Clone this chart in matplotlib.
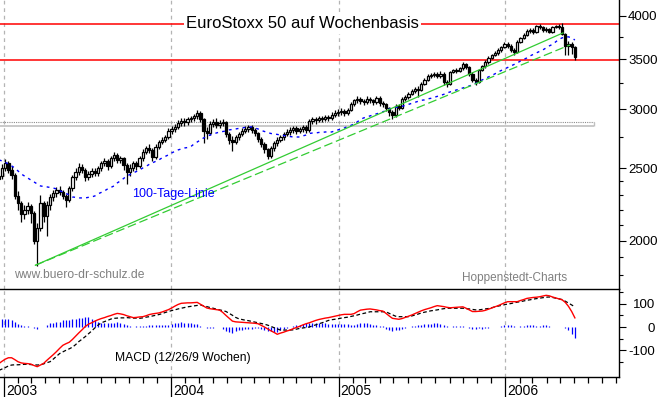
import numpy as np
import pandas as pd
import matplotlib
matplotlib.use("Agg")
import matplotlib.pyplot as plt
import matplotlib.dates as mdates
from matplotlib.ticker import FixedLocator, NullFormatter, FixedFormatter

plt.rcParams['font.family'] = ['Liberation Sans', 'DejaVu Sans']

# ---------------- data ----------------
first_week = "2002-12-20"
first_open = 2420

close = [2438, 2499, 2538, 2484, 2446, 2292, 2243, 2168, 2195, 2222,
         2175, 2000, 2076, 2243, 2155, 2229, 2285, 2313, 2335, 2321,
         2292, 2264, 2349, 2431, 2469, 2507, 2484, 2431, 2453, 2476,
         2461, 2499, 2538, 2554, 2515, 2578, 2602, 2562, 2578, 2523,
         2469, 2499, 2538, 2515, 2578, 2626, 2659, 2642, 2586, 2667,
         2709, 2725, 2752, 2803, 2820, 2837, 2872, 2890, 2881, 2908,
         2917, 2935, 2963, 2908, 2803, 2786, 2864, 2881, 2855, 2872,
         2881, 2777, 2725, 2709, 2752, 2777, 2803, 2820, 2837, 2811,
         2786, 2735, 2692, 2651, 2594, 2659, 2700, 2725, 2752, 2777,
         2794, 2811, 2829, 2803, 2820, 2837, 2811, 2890, 2908, 2899,
         2917, 2908, 2926, 2917, 2944, 2963, 2972, 2981, 2963, 2990,
         3046, 3084, 3094, 3075, 3065, 3094, 3084, 3065, 3103, 3056,
         3046, 3009, 2972, 2944, 3028, 3009, 3094, 3113, 3142, 3171,
         3191, 3181, 3241, 3281, 3322, 3332, 3343, 3322, 3343, 3261,
         3241, 3364, 3384, 3374, 3405, 3448, 3416, 3343, 3281, 3261,
         3384, 3427, 3469, 3512, 3545, 3567, 3600, 3633, 3667, 3645,
         3600, 3578, 3690, 3736, 3771, 3818, 3830, 3806, 3878, 3866,
         3830, 3842, 3806, 3866, 3878, 3866, 3783, 3645, 3667, 3633,
         3523]

high = [2470, 2530, 2575, 2560, 2520, 2460, 2330, 2260, 2230, 2250,
        2240, 2190, 2110, 2300, 2260, 2260, 2310, 2340, 2360, 2370,
        2340, 2310, 2370, 2450, 2500, 2540, 2530, 2500, 2480, 2500,
        2500, 2520, 2560, 2580, 2570, 2600, 2630, 2620, 2600, 2590,
        2540, 2530, 2560, 2560, 2600, 2650, 2680, 2690, 2660, 2690,
        2730, 2750, 2770, 2830, 2850, 2870, 2900, 2920, 2920, 2930,
        2940, 2960, 2990, 2980, 2920, 2840, 2890, 2910, 2920, 2900,
        2910, 2890, 2800, 2760, 2770, 2800, 2830, 2850, 2860, 2860,
        2830, 2800, 2750, 2710, 2660, 2680, 2720, 2750, 2770, 2800,
        2820, 2840, 2850, 2850, 2840, 2860, 2860, 2910, 2930, 2930,
        2940, 2940, 2950, 2950, 2970, 2990, 3000, 3010, 3000, 3010,
        3070, 3100, 3120, 3110, 3100, 3120, 3110, 3100, 3120, 3120,
        3080, 3060, 3020, 2990, 3050, 3050, 3110, 3130, 3160, 3190,
        3210, 3220, 3260, 3300, 3340, 3350, 3360, 3360, 3370, 3360,
        3280, 3380, 3400, 3410, 3420, 3470, 3460, 3430, 3360, 3300,
        3400, 3440, 3490, 3530, 3560, 3590, 3620, 3650, 3690, 3690,
        3670, 3620, 3710, 3750, 3790, 3840, 3860, 3850, 3890, 3900,
        3880, 3870, 3860, 3880, 3895, 3900, 3910, 3790, 3700, 3690,
        3650]

low = [2390, 2420, 2480, 2460, 2420, 2270, 2200, 2120, 2140, 2170,
       2110, 1980, 1850, 2060, 2120, 2030, 2200, 2260, 2290, 2300,
       2270, 2220, 2250, 2330, 2410, 2450, 2460, 2400, 2410, 2430,
       2440, 2440, 2480, 2520, 2490, 2500, 2560, 2540, 2540, 2490,
       2380, 2440, 2480, 2490, 2500, 2560, 2610, 2620, 2560, 2570,
       2650, 2690, 2710, 2740, 2780, 2800, 2820, 2850, 2850, 2860,
       2880, 2890, 2910, 2880, 2700, 2740, 2770, 2840, 2830, 2830,
       2850, 2750, 2690, 2640, 2690, 2730, 2760, 2790, 2800, 2790,
       2760, 2710, 2670, 2620, 2570, 2580, 2640, 2680, 2710, 2730,
       2760, 2770, 2790, 2780, 2790, 2800, 2790, 2800, 2870, 2870,
       2880, 2880, 2890, 2890, 2900, 2930, 2940, 2950, 2940, 2950,
       2980, 3030, 3060, 3050, 3040, 3050, 3060, 3040, 3050, 3030,
       3020, 2980, 2940, 2910, 2930, 2990, 3000, 3080, 3100, 3130,
       3150, 3110, 3170, 3230, 3270, 3300, 3310, 3300, 3300, 3230,
       3210, 3230, 3350, 3350, 3360, 3390, 3400, 3320, 3260, 3230,
       3250, 3370, 3410, 3450, 3500, 3530, 3550, 3580, 3620, 3620,
       3580, 3550, 3570, 3680, 3720, 3760, 3800, 3780, 3790, 3840,
       3810, 3810, 3790, 3790, 3850, 3840, 3770, 3545, 3545, 3560,
       3490]

ma100 = [2565, 2557, 2546, 2534, 2518, 2502, 2479, 2456, 2441, 2426,
         2411, 2396, 2382, 2367, 2363, 2360, 2356, 2352, 2345, 2331,
         2324, 2313, 2302, 2288, 2285, 2281, 2281, 2281, 2285, 2288,
         2295, 2310, 2320, 2331, 2345, 2356, 2367, 2389, 2404, 2422,
         2441, 2452, 2464, 2475, 2487, 2502, 2514, 2530, 2542, 2553,
         2565, 2581, 2593, 2605, 2621, 2633, 2645, 2653, 2661, 2665,
         2673, 2694, 2711, 2728, 2745, 2757, 2770, 2779, 2787, 2796,
         2800, 2805, 2814, 2818, 2822, 2827, 2831, 2836, 2840, 2840,
         2831, 2822, 2809, 2800, 2792, 2783, 2779, 2775, 2770, 2766,
         2762, 2757, 2753, 2753, 2753, 2762, 2770, 2783, 2787, 2787,
         2792, 2792, 2796, 2796, 2796, 2805, 2814, 2822, 2831, 2844,
         2853, 2866, 2884, 2906, 2920, 2929, 2938, 2947, 2956, 2965,
         2975, 2988, 3002, 3012, 3016, 3021, 3026, 3035, 3045, 3054,
         3064, 3073, 3083, 3087, 3097, 3102, 3111, 3121, 3130, 3140,
         3154, 3164, 3173, 3183, 3193, 3203, 3213, 3223, 3233, 3248,
         3263, 3283, 3298, 3314, 3329, 3345, 3365, 3381, 3397, 3412,
         3428, 3444, 3460, 3481, 3498, 3514, 3536, 3553, 3569, 3586,
         3602, 3624, 3647, 3664, 3692, 3721, 3738, 3750, 3750, 3738,
         3714]

macd = [-156, -146, -137, -131, -131, -139, -148, -153, -155, -156,
        -158, -164, -169, -162, -155, -142, -130, -118, -105, -91,
        -78, -71, -65, -53, -39, -25, -12, 2, 12, 18,
        25, 31, 36, 40, 45, 49, 54, 58, 56, 53,
        48, 44, 40, 41, 43, 44, 48, 53, 56, 58,
        60, 64, 69, 74, 81, 89, 96, 101, 102, 103,
        103, 104, 105, 97, 89, 81, 78, 76, 74, 72,
        62, 49, 37, 25, 22, 21, 20, 19, 18, 17,
        16, 14, 7, 0, -8, -16, -23, -31, -26, -22,
        -17, -13, -7, -2, 3, 9, 14, 18, 23, 28,
        32, 35, 38, 40, 43, 46, 49, 52, 54, 54,
        54, 57, 65, 72, 74, 76, 77, 75, 73, 70,
        68, 58, 47, 37, 35, 33, 36, 41, 46, 51,
        57, 63, 69, 74, 78, 82, 87, 91, 89, 87,
        84, 82, 83, 84, 85, 86, 80, 73, 66, 66,
        67, 68, 71, 76, 81, 86, 91, 97, 103, 108,
        108, 108, 108, 113, 117, 122, 124, 126, 127, 129,
        132, 135, 133, 128, 124, 120, 116, 105, 88, 66,
        39]

signal = [-185, -179, -173, -166, -162, -161, -161, -160, -159, -159,
          -160, -161, -162, -161, -157, -152, -148, -137, -125, -113,
          -106, -99, -93, -86, -75, -62, -52, -41, -29, -17,
          -4, 8, 18, 23, 28, 34, 37, 38, 39, 39,
          40, 39, 38, 38, 37, 39, 42, 44, 47, 50,
          53, 57, 62, 66, 70, 73, 77, 80, 83, 86,
          88, 90, 92, 94, 90, 87, 83, 80, 76, 73,
          70, 66, 58, 50, 41, 35, 32, 29, 27, 24,
          21, 18, 15, 12, 8, 3, -3, -8, -13, -13,
          -13, -13, -12, -9, -6, -4, -2, 0, 5, 9,
          14, 18, 23, 28, 31, 33, 35, 38, 40, 42,
          45, 48, 51, 55, 58, 61, 65, 65, 65, 65,
          65, 65, 58, 52, 46, 44, 44, 44, 44, 47,
          51, 55, 60, 63, 66, 69, 71, 73, 76, 78,
          80, 80, 80, 80, 80, 80, 78, 77, 75, 73,
          73, 75, 77, 79, 82, 86, 89, 92, 95, 98,
          100, 103, 106, 108, 111, 114, 116, 119, 121, 123,
          125, 127, 128, 126, 123, 120, 117, 110, 102, 94,
          86]

level_lines = [3900, 3490]
zone_levels = [2850, 2885]
zone_end = "2006-07-14"
trend_solid_dates = ["2003-03-10", "2006-05-07"]
trend_solid_values = [1853, 3796]
trend_dashed_dates = ["2003-03-10", "2006-05-22"]
trend_dashed_values = [1853, 3658]
year_ticks = ["2003-01-01", "2004-01-01", "2005-01-01", "2006-01-01"]
year_labels = ["2003", "2004", "2005", "2006"]
price_major = [2000, 2500, 3000, 3500, 4000]
price_minor = [1800, 1900, 2100, 2200, 2300, 2400, 2750, 3250, 3750]
macd_major = [-100, 0, 100]
macd_minor = [-150, -50, 50, 150]

# ---------------- figure ----------------
W, H = 660, 397
fig = plt.figure(figsize=(W / 100, H / 100), dpi=100)
right_px = 619
ax = fig.add_axes([0, (H - 289) / H, right_px / W, 289 / H])
ax2 = fig.add_axes([0, (H - 377) / H, right_px / W, 88 / H], sharex=ax)

dates = pd.date_range(first_week, periods=len(close), freq="7D")
xd = mdates.date2num(dates.to_pydatetime())
c = np.array(close, float)
o = np.concatenate([[first_open], c[:-1]])
hi = np.array(high, float)
lo = np.array(low, float)

x0 = mdates.date2num(pd.Timestamp("2002-12-22 14:00"))
x1 = mdates.date2num(pd.Timestamp("2006-09-06 12:00"))
ax.set_xlim(x0, x1)

# main panel
ax.set_yscale("log")
ax.set_ylim(1722, 4202)

grid_kw = dict(color="#b4b4b4", lw=0.9, ls=(0, (3, 3)), zorder=0)
for d in year_ticks:
    xv = mdates.date2num(pd.Timestamp(d))
    ax.axvline(xv, **grid_kw)
    ax2.axvline(xv, **grid_kw)

# zone box
ze = mdates.date2num(pd.Timestamp(zone_end))
ax.hlines(zone_levels[1], x0, ze, color="#8c8c8c", lw=0.8, ls=(0, (1, 1)), zorder=1)
ax.hlines(zone_levels[0], x0, ze, color="#c0c0c0", lw=1.2, zorder=1)
ax.vlines(ze, zone_levels[0], zone_levels[1], color="#c0c0c0", lw=1.0, zorder=1)

for lv in level_lines:
    ax.axhline(lv, color="#ff0000", lw=1.1, zorder=2)

# candles
up = c >= o
ax.vlines(xd, lo, hi, color="black", lw=0.9, zorder=3)
body_lo = np.minimum(o, c)
body_h = np.maximum(np.abs(c - o), 3.0)
ax.bar(xd[up], body_h[up], bottom=body_lo[up], width=5.0, color="white",
       edgecolor="black", linewidth=0.9, zorder=4)
ax.bar(xd[~up], body_h[~up], bottom=body_lo[~up], width=5.0, color="black",
       edgecolor="black", linewidth=0.9, zorder=4)

# 100-Tage-Linie
ax.plot(xd, ma100, color="#0000ff", lw=1.0, ls=(0, (2, 3)), zorder=5)

# trend lines
ax.plot(mdates.date2num(pd.to_datetime(trend_solid_dates).to_pydatetime()),
        trend_solid_values, color="#33cc33", lw=0.9, zorder=5)
ax.plot(mdates.date2num(pd.to_datetime(trend_dashed_dates).to_pydatetime()),
        trend_dashed_values, color="#33cc33", lw=0.9, ls=(0, (7, 3)), zorder=5)

ax.text(0.488, 1 - 24 / 289, "EuroStoxx 50 auf Wochenbasis", transform=ax.transAxes,
        ha="center", va="center", fontsize=12, color="black", zorder=6,
        bbox=dict(facecolor="white", edgecolor="none", pad=1.5))
ax.text(132 / right_px, 1 - 194 / 289, "100-Tage-Linie", transform=ax.transAxes,
        ha="left", va="center", fontsize=9, color="#0000ff", zorder=6)
ax.text(14 / right_px, 1 - 275 / 289, "www.buero-dr-schulz.de", transform=ax.transAxes,
        ha="left", va="center", fontsize=8.7, color="#808080", zorder=6)
ax.text(462 / right_px, 1 - 278 / 289, "Hoppenstedt-Charts", transform=ax.transAxes,
        ha="left", va="center", fontsize=8.5, color="#808080", zorder=6)

ax.yaxis.tick_right()
ax.yaxis.set_major_locator(FixedLocator(price_major))
ax.yaxis.set_major_formatter(FixedFormatter([str(v) for v in price_major]))
ax.yaxis.set_minor_locator(FixedLocator(price_minor))
ax.yaxis.set_minor_formatter(NullFormatter())
ax.tick_params(axis="y", which="major", length=5, width=0.8, pad=1.5, labelsize=9.5)
ax.tick_params(axis="y", which="minor", length=3, width=0.8)
ax.tick_params(axis="x", which="both", bottom=False, labelbottom=False)
for s in ["left", "top", "bottom"]:
    ax.spines[s].set_visible(False)
ax.spines["right"].set_linewidth(1.0)

# MACD panel
ax2.set_ylim(-213, 162)
hist = np.array(macd, float) - np.array(signal, float)
ax2.vlines(xd, 0, hist, color="#0000ff", lw=0.9, zorder=3)
ax2.plot(xd, signal, color="black", lw=0.9, ls=(0, (3, 2)), zorder=4)
ax2.plot(xd, macd, color="#ff0000", lw=1.0, zorder=5)
ax2.text(115 / right_px, (377 - 358) / 88, "MACD (12/26/9 Wochen)", transform=ax2.transAxes,
         ha="left", va="center", fontsize=8.7, color="black")

ax2.yaxis.tick_right()
ax2.yaxis.set_major_locator(FixedLocator(macd_major))
ax2.yaxis.set_major_formatter(FixedFormatter([str(v) for v in macd_major]))
ax2.yaxis.set_minor_locator(FixedLocator(macd_minor))
ax2.yaxis.set_minor_formatter(NullFormatter())
ax2.tick_params(axis="y", which="major", length=5, width=0.8, pad=21, labelsize=9.5)
ax2.tick_params(axis="y", which="minor", length=3, width=0.8)
for lab in ax2.get_yticklabels():
    lab.set_horizontalalignment("right")
ax2.spines["left"].set_visible(False)
for s in ["right", "top", "bottom"]:
    ax2.spines[s].set_linewidth(1.0)

ax2.xaxis.set_major_locator(mdates.YearLocator())
ax2.xaxis.set_minor_locator(mdates.MonthLocator())
ax2.xaxis.set_major_formatter(NullFormatter())
ax2.tick_params(axis="x", which="major", length=15, width=0.9)
ax2.tick_params(axis="x", which="minor", length=4.3, width=0.9)
for d, lab in zip(year_ticks, year_labels):
    ax2.annotate(lab, xy=(mdates.date2num(pd.Timestamp(d)), 0),
                 xycoords=("data", "axes fraction"), xytext=(1.5, -13),
                 textcoords="offset points", ha="left", va="baseline", fontsize=10)

fig.savefig("out.png", dpi=100)
